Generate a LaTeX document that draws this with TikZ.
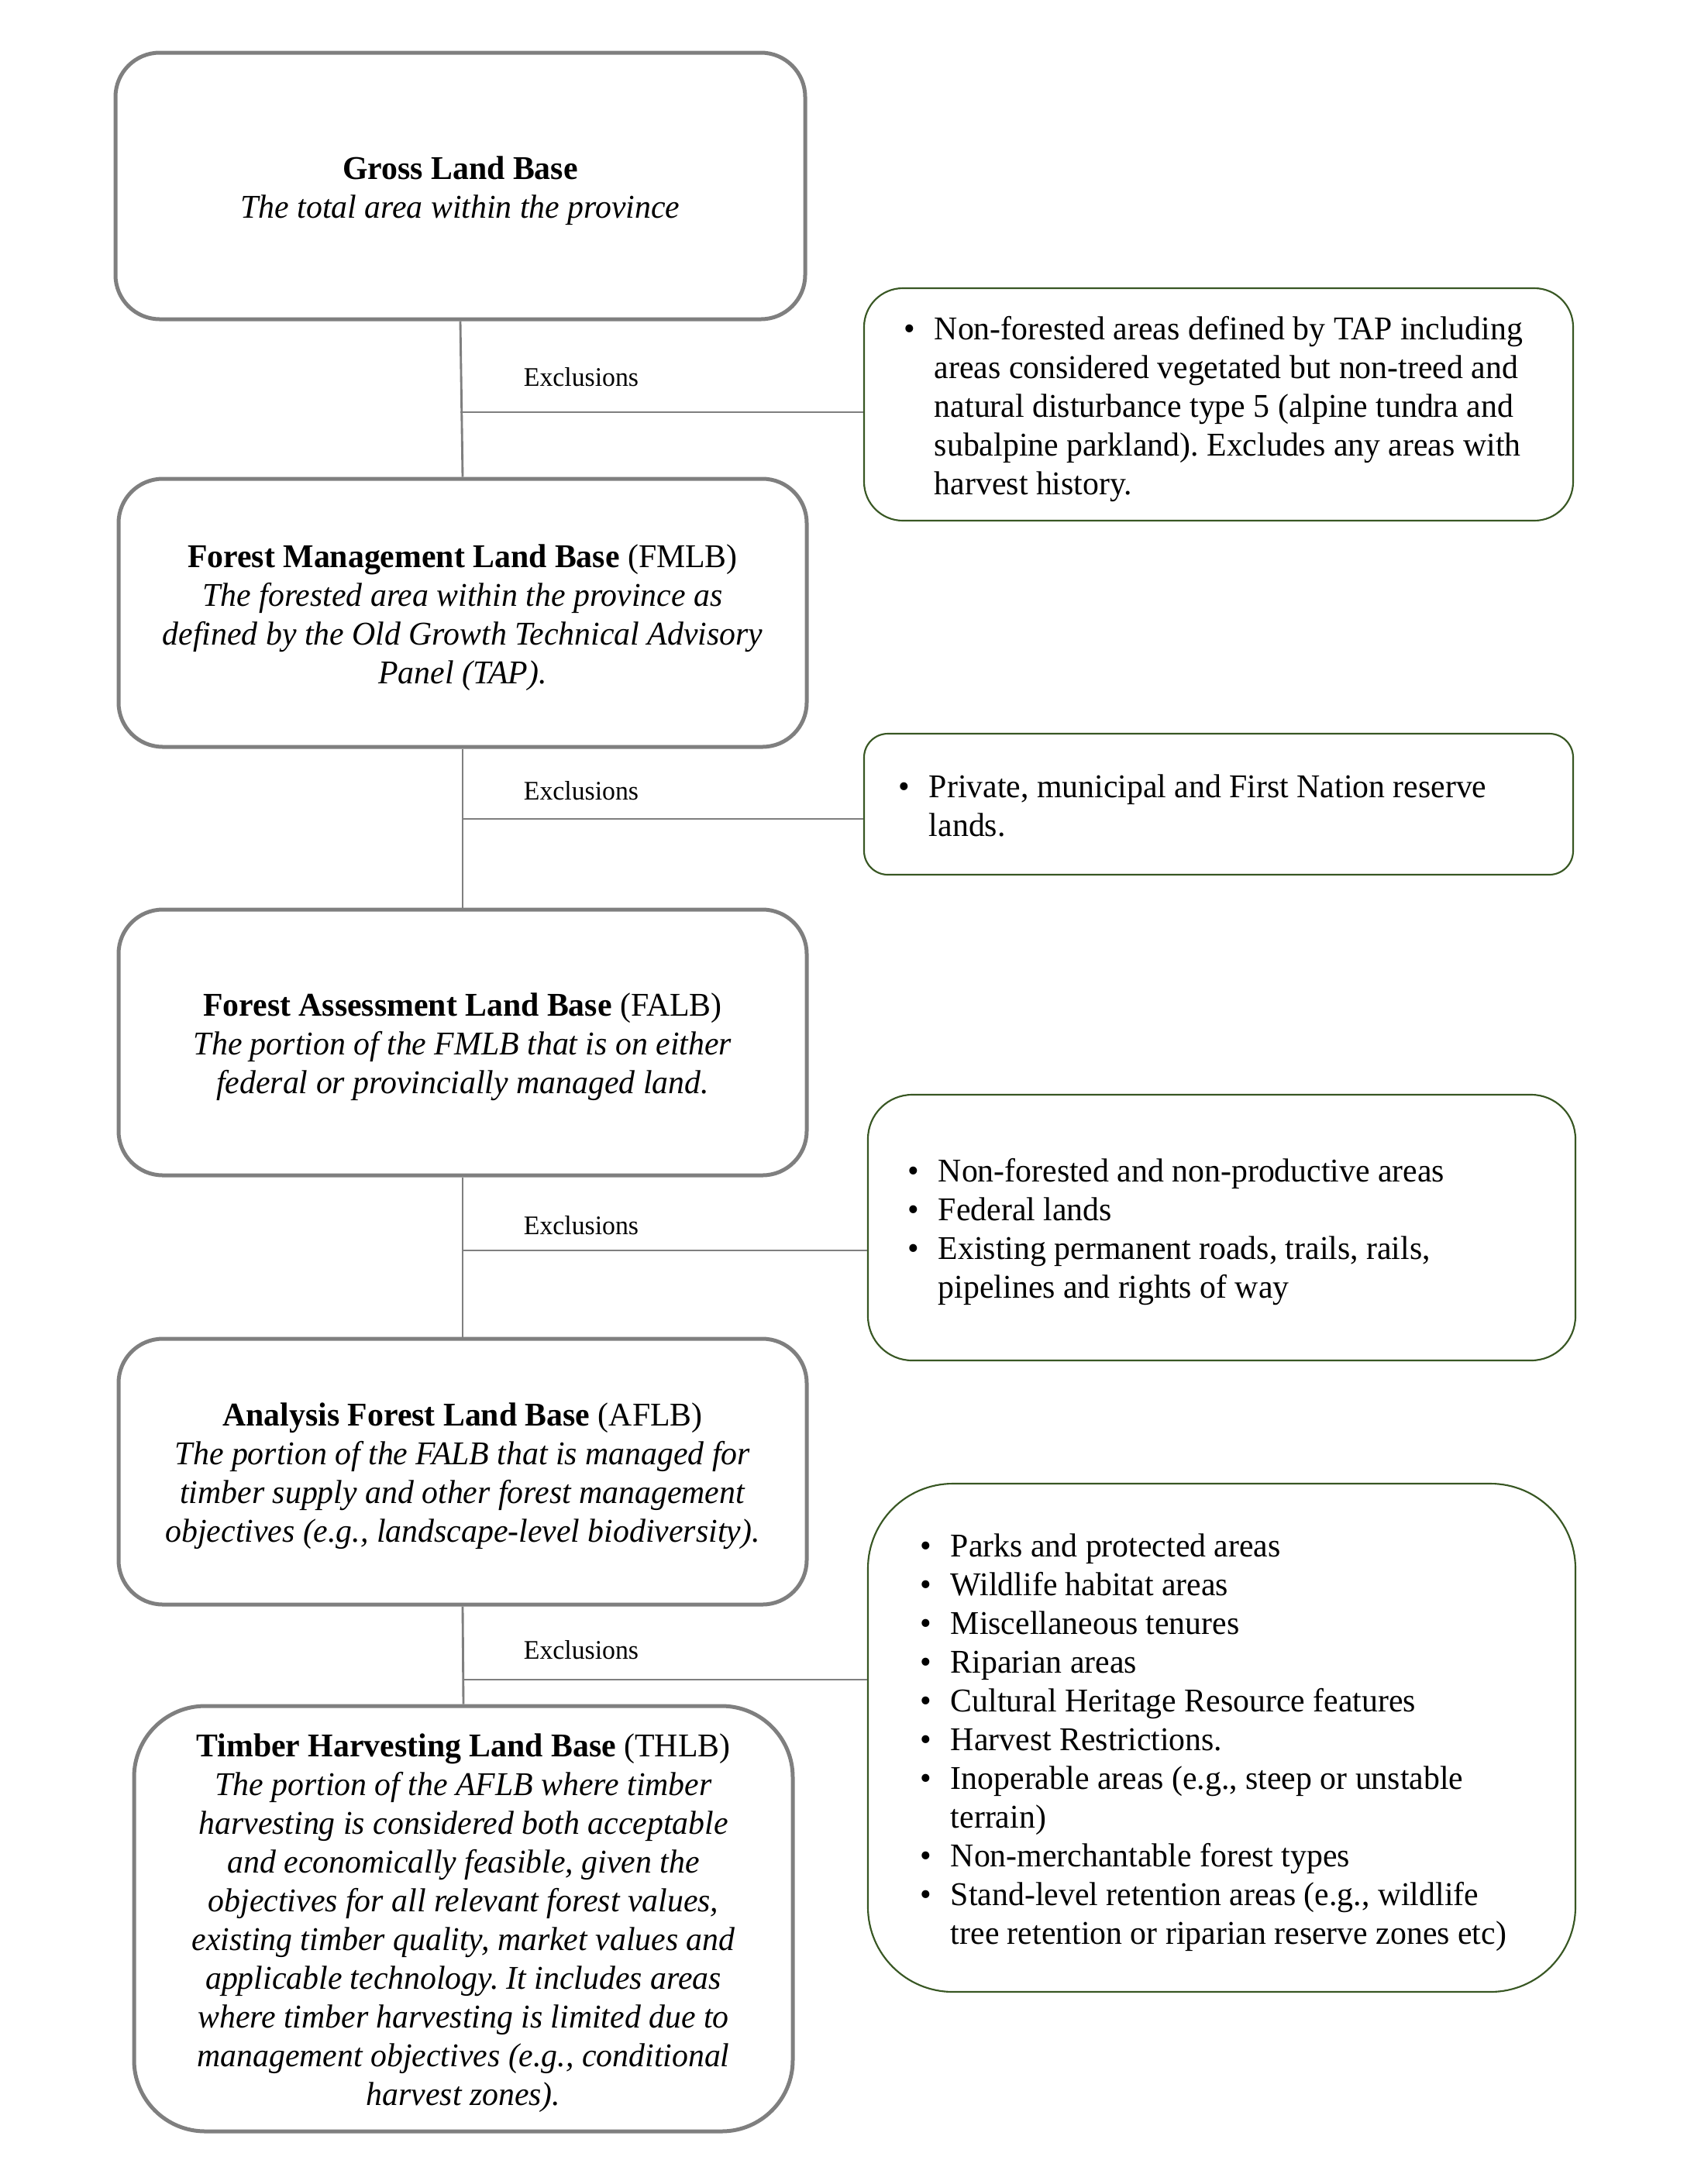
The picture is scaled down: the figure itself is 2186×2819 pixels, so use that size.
\documentclass[tikz,border=0pt]{standalone}
\usepackage{fontspec}
\setmainfont{Liberation Serif}[FakeStretch=0.975]
\usepackage{array}
\definecolor{boxgray}{HTML}{7F7F7F}
\definecolor{exgreen}{HTML}{385723}
\begin{document}
\frenchspacing
\begin{tikzpicture}[x=0.28pt,y=-0.28pt,
  landbox/.style={draw=boxgray,line width=1.4pt,rounded corners=16pt,inner sep=0pt},
  exbox/.style={draw=exgreen,line width=0.6pt,inner sep=0pt},
  landtext/.style={inner sep=0pt,align=center,font=\fontsize{12}{14}\selectfont},
  extext/.style={inner sep=0pt,align=left,font=\fontsize{12}{14}\selectfont,anchor=west},
  conn/.style={draw=boxgray,line width=0.8pt},
  exlabel/.style={font=\fontsize{9.7}{12}\selectfont,inner sep=0pt}]
\useasboundingbox[fill=white] (0,0) rectangle (2186,2819);

% main land-base boxes
\node[landbox,minimum width=890*0.28pt,minimum height=344*0.28pt] (g1) at (594,240) {};
\node[landbox,minimum width=888*0.28pt,minimum height=346*0.28pt] (g2) at (597,791) {};
\node[landbox,minimum width=888*0.28pt,minimum height=343*0.28pt] (g3) at (597,1345.5) {};
\node[landbox,minimum width=888*0.28pt,minimum height=343*0.28pt] (g4) at (597,1899.5) {};
\node[landbox,rounded corners=25.7pt,minimum width=850*0.28pt,minimum height=549*0.28pt] (g5) at (598,2476.5) {};

\node[landtext] (t1) at ([yshift=-1.7pt]g1.center)
  {\textbf{Gross Land Base}\\\textit{The total area within the province}};
\node[landtext] (t2) at ([yshift=-1.7pt]g2.center)
  {\textbf{Forest Management Land Base} (FMLB)\\
   \textit{The forested area within the province as}\\
   \textit{defined by the Old Growth Technical Advisory}\\
   \textit{Panel (TAP).}};
\node[landtext] (t3) at ([yshift=-1.7pt]g3.center)
  {\textbf{Forest Assessment Land Base} (FALB)\\
   \textit{The portion of the FMLB that is on either}\\
   \textit{federal or provincially managed land.}};
\node[landtext] (t4) at ([yshift=-1.7pt]g4.center)
  {\textbf{Analysis Forest Land Base} (AFLB)\\
   \textit{The portion of the FALB that is managed for}\\
   \textit{timber supply and other forest management}\\
   \textit{objectives (e.g., landscape-level biodiversity).}};
\node[landtext] (t5) at ([yshift=-1.7pt]g5.center)
  {\textbf{Timber Harvesting Land Base} (THLB)\\
   \textit{The portion of the AFLB where timber}\\
   \textit{harvesting is considered both acceptable}\\
   \textit{and economically feasible, given the}\\
   \textit{objectives for all relevant forest values,}\\
   \textit{existing timber quality, market values and}\\
   \textit{applicable technology. It includes areas}\\
   \textit{where timber harvesting is limited due to}\\
   \textit{management objectives (e.g., conditional}\\
   \textit{harvest zones).}};

% exclusion boxes
\node[exbox,rounded corners=14pt,minimum width=915*0.28pt,minimum height=300*0.28pt] (e1) at (1572.5,522) {};
\node[exbox,rounded corners=8.6pt,minimum width=915*0.28pt,minimum height=182*0.28pt] (e2) at (1572.5,1038) {};
\node[exbox,rounded corners=16pt,minimum width=913*0.28pt,minimum height=343*0.28pt] (e3) at (1576.5,1584.5) {};
\node[exbox,rounded corners=30.7pt,minimum width=913*0.28pt,minimum height=656*0.28pt] (e4) at (1576.5,2243) {};

\node[extext] (l1) at ([xshift=52*0.28pt,yshift=-1.7pt]e1.west)
  {\begin{tabular}{@{}p{11pt}@{}l@{}}
   \textbullet & Non-forested areas defined by TAP including\\
   & areas considered vegetated but non-treed and\\
   & natural disturbance type 5 (alpine tundra and\\
   & subalpine parkland). Excludes any areas with\\
   & harvest history.
   \end{tabular}};
\node[extext] (l2) at ([xshift=45*0.28pt,yshift=-1.7pt]e2.west)
  {\begin{tabular}{@{}p{11pt}@{}l@{}}
   \textbullet & Private, municipal and First Nation reserve\\
   & lands.
   \end{tabular}};
\node[extext] (l3) at ([xshift=52*0.28pt,yshift=-1.7pt]e3.west)
  {\begin{tabular}{@{}p{11pt}@{}l@{}}
   \textbullet & Non-forested and non-productive areas\\
   \textbullet & Federal lands\\
   \textbullet & Existing permanent roads, trails, rails,\\
   & pipelines and rights of way
   \end{tabular}};
\node[extext] (l4) at ([xshift=68*0.28pt,yshift=-1.7pt]e4.west)
  {\begin{tabular}{@{}p{11pt}@{}l@{}}
   \textbullet & Parks and protected areas\\
   \textbullet & Wildlife habitat areas\\
   \textbullet & Miscellaneous tenures\\
   \textbullet & Riparian areas\\
   \textbullet & Cultural Heritage Resource features\\
   \textbullet & Harvest Restrictions.\\
   \textbullet & Inoperable areas (e.g., steep or unstable\\
   & terrain)\\
   \textbullet & Non-merchantable forest types\\
   \textbullet & Stand-level retention areas (e.g., wildlife\\
   & tree retention or riparian reserve zones etc)
   \end{tabular}};

% connectors
\coordinate (j1) at (594,532);
\coordinate (j2) at (597,1057);
\coordinate (j3) at (597,1614);
\coordinate (j4) at (597,2168);
\draw[conn] (g1.south) -- (g2.north);
\draw[conn] (g2.south) -- (g3.north);
\draw[conn] (g3.south) -- (g4.north);
\draw[conn] (g4.south) -- (g5.north);
\draw[conn] (j1) -- (j1 -| e1.west);
\draw[conn] (j2) -- (j2 -| e2.west);
\draw[conn] (j3) -- (j3 -| e3.west);
\draw[conn] (j4) -- (j4 -| e4.west);

% labels
\node[exlabel] (x1) at (750,487) {Exclusions};
\node[exlabel] (x2) at (750,1021) {Exclusions};
\node[exlabel] (x3) at (750,1582) {Exclusions};
\node[exlabel] (x4) at (750,2130) {Exclusions};
\end{tikzpicture}
\end{document}
